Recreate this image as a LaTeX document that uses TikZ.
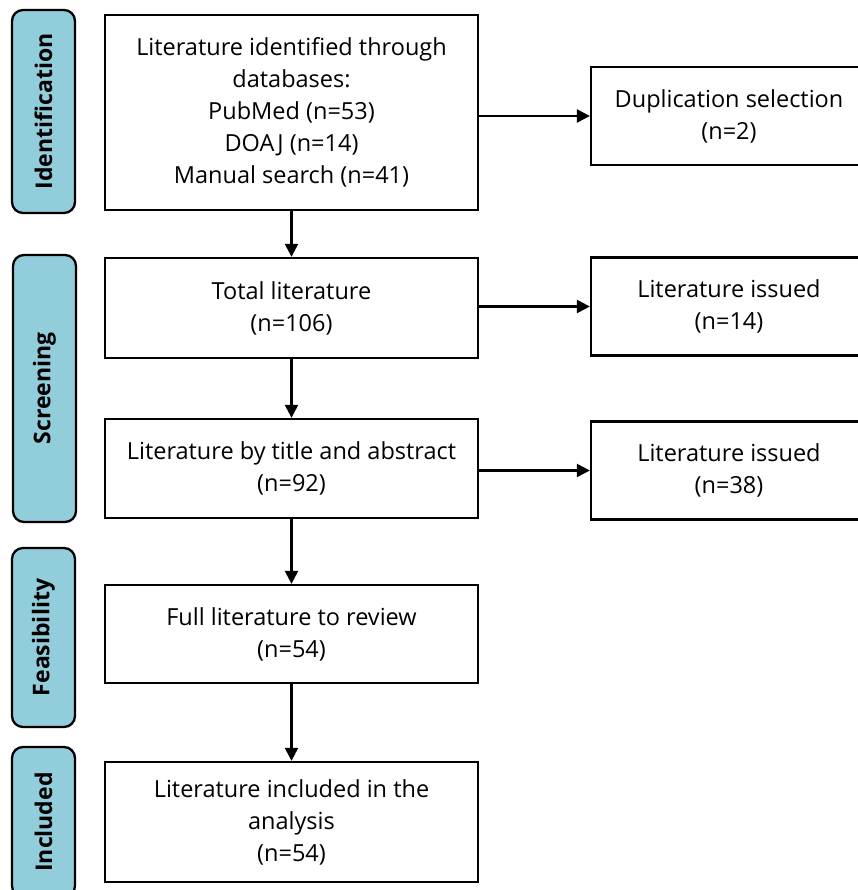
\documentclass[tikz,border=0pt]{standalone}
\usepackage{fontspec}
\setmainfont{Open Sans}
\usetikzlibrary{arrows.meta,positioning}
\definecolor{stageblue}{HTML}{92CDDC}
\tikzset{every picture/.style={line width=2.3pt}}
\tikzstyle{stage}=[draw,fill=stageblue,rounded corners=11pt,rotate=90,minimum height=63pt,inner sep=0pt,font=\fontsize{23}{28}\selectfont\bfseries]
\tikzstyle{box}=[draw,align=center,minimum width=373pt,inner sep=0pt,font=\fontsize{23.5}{32}\selectfont]
\tikzstyle{outbox}=[draw,align=center,minimum width=276pt,minimum height=98pt,inner sep=0pt,font=\fontsize{23.5}{32}\selectfont]

\begin{document}
\begin{tikzpicture}[x=1pt,y=-1pt]
\useasboundingbox (0,0) rectangle (857,890);
% stages on the left
\node[stage,minimum width=203pt] (S1) at (43.5,111.5) {Identification};
\node[stage,minimum width=267pt] (S2) at (44.5,388.5) {Screening};
\node[stage,minimum width=179pt] (S3) at (43.5,637.5) {Feasibility};
\node[stage,minimum width=150pt] (S4) at (43.5,822) {Included};
% main column
\node[box,minimum height=195pt] (A) at (291.5,112.5) {Literature identified through\\databases:\\PubMed (n=53)\\DOAJ (n=14)\\Manual search (n=41)};
\node[box,minimum height=100pt] (B) at (291.5,308) {Total literature\\(n=106)};
\node[box,minimum height=99pt] (C) at (291.5,468.5) {Literature by title and abstract\\(n=92)};
\node[box,minimum height=98pt] (D) at (291.5,634) {Full literature to review\\(n=54)};
\node[box,minimum height=120pt] (E) at (291.5,822) {Literature included in the\\analysis\\(n=54)};
% excluded column
\node[outbox] (A2) at (729,116) {Duplication selection\\(n=2)};
\node[outbox] (B2) at (729,306.5) {Literature issued\\(n=14)};
\node[outbox] (C2) at (729,470.5) {Literature issued\\(n=38)};
\path[-{Triangle[length=13pt,width=13pt]}]
(A) edge (B)
(B) edge (C)
(C) edge (D)
(D) edge (E)
(A.east |- A2) edge (A2)
(B.east |- B2) edge (B2)
(C.east |- C2) edge (C2);
\end{tikzpicture}
\end{document}
